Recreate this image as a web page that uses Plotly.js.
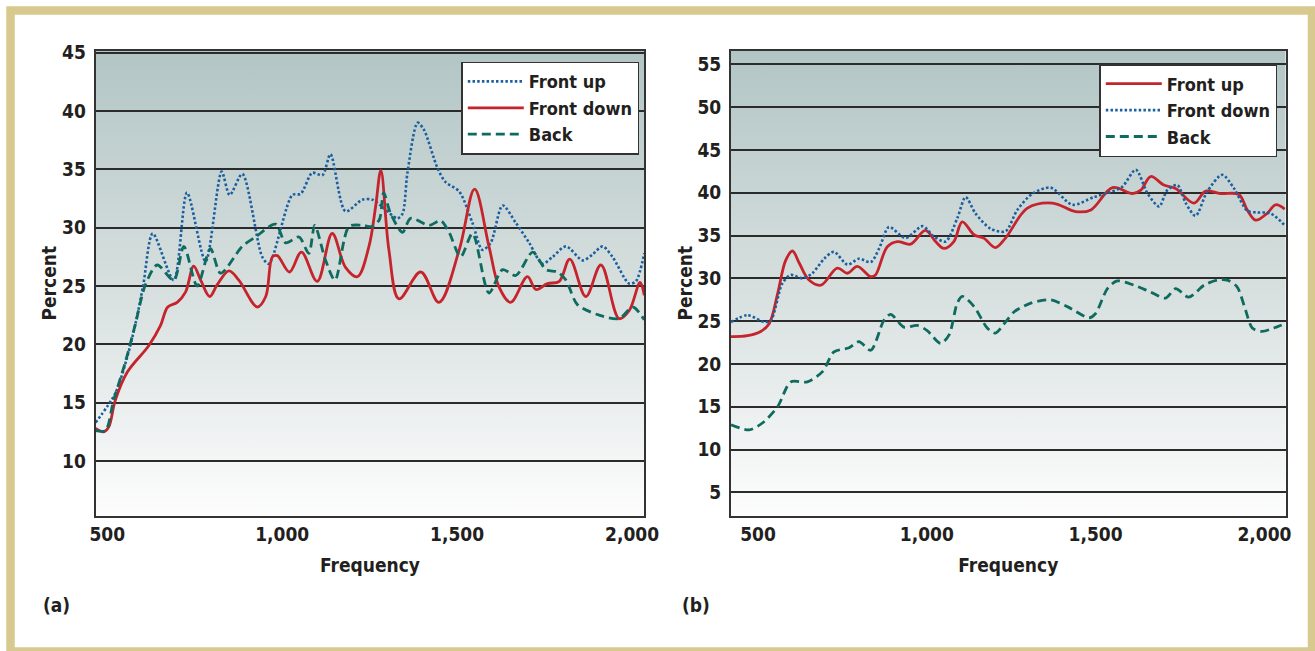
<!DOCTYPE html>
<html>
<head>
<meta charset="utf-8">
<script src="https://cdn.plot.ly/plotly-3.0.1.min.js"></script>
<style>
  html, body { margin: 0; padding: 0; background: #ffffff; }
  #chart { width: 1315px; height: 651px; }
</style>
</head>
<body>
<div id="chart"></div>
<script>
// ---------- Data ----------
// Panel (a)
const freqA_up   = [467,523,557,581,603,630,690,728,781,827,850,886,943,962,1029,1053,1086,1115,1138,1181,1229,1258,1286,1329,1344,1358,1387,1405,1444,1467,1506,1544,1572,1596,1630,1668,1706,1744,1773,1811,1859,1887,1916,1944,1992,2011,2035];
const valA_up    = [13.3,15.8,18.9,21.8,25.1,29.5,25.5,33.0,27.1,34.8,32.8,34.6,27.5,26.9,32.8,32.9,34.7,34.5,36.3,31.4,32.4,32.4,31.8,30.8,31.2,34.7,39.0,38.4,35.1,33.9,33.1,30.4,28.1,28.7,31.9,30.4,28.7,26.9,27.5,28.4,27.2,27.7,28.4,27.5,25.2,25.4,27.8];

const freqA_down = [467,490,504,523,557,619,652,673,700,724,747,767,793,814,848,876,929,953,972,986,1021,1055,1100,1143,1181,1215,1248,1267,1282,1305,1334,1396,1448,1506,1550,1591,1620,1653,1701,1725,1758,1792,1822,1868,1911,1963,1992,2023,2035];
const valA_down  = [12.8,12.5,12.9,15.2,17.6,19.9,21.6,23.2,23.6,24.5,26.7,25.5,24.1,25.1,26.3,25.5,23.2,24.1,27.5,27.6,26.2,27.9,25.4,29.5,26.6,25.8,28.4,31.8,34.9,28.1,23.9,26.2,23.6,28.1,33.3,28.4,24.9,23.6,25.8,24.7,25.2,25.4,27.3,24.1,26.8,22.2,22.9,25.3,24.2];

const freqA_back = [467,495,518,552,581,609,643,690,719,757,795,824,886,924,981,1010,1048,1076,1093,1124,1151,1191,1229,1258,1278,1290,1310,1344,1367,1420,1453,1477,1510,1544,1591,1630,1668,1716,1754,1787,1811,1844,1906,1963,2002,2035];
const valA_back  = [12.6,12.6,15.2,18.5,21.8,25.1,26.8,25.5,28.4,25.0,28.2,26.1,28.4,29.2,30.3,28.7,29.2,27.8,30.2,27.2,25.5,30.1,30.2,30.1,30.7,33.0,31.2,29.6,30.8,30.2,30.6,29.6,27.5,29.5,24.4,26.4,25.9,27.9,26.4,26.2,25.5,23.4,22.5,22.2,23.2,22.1];

// Panel (b)
const freqB_up   = [420,469,508,533,558,582,602,622,651,686,735,765,794,834,848,883,913,952,996,1026,1051,1080,1105,1140,1169,1203,1233,1298,1372,1441,1486,1550,1609,1634,1663,1702,1737,1791,1826,1870,1924,1949,1974,2008,2033,2060];
const valB_up    = [23.2,23.3,23.8,24.7,28.2,32.1,33.2,31.8,29.8,29.2,31.2,30.6,31.4,30.2,30.4,33.7,34.3,34.0,35.6,34.3,33.5,34.3,36.6,35.1,34.7,33.6,34.7,38.2,38.8,37.8,38.0,40.6,39.9,40.3,41.9,40.9,40.5,38.8,40.2,39.9,39.8,38.0,36.8,37.6,38.6,38.1];

const freqB_down = [420,469,518,538,572,597,632,661,696,725,765,799,834,859,888,937,987,1021,1056,1090,1115,1144,1189,1233,1268,1313,1367,1431,1495,1545,1579,1619,1654,1688,1712,1742,1767,1796,1830,1875,1910,1949,1978,2018,2060];
const valB_down  = [24.9,25.7,24.9,25.1,29.4,30.4,30.0,30.6,32.3,33.1,31.6,32.3,31.9,33.5,36.0,34.7,36.1,34.9,34.3,37.0,39.5,37.6,35.8,35.5,38.0,39.9,40.6,38.6,39.5,40.1,40.7,42.7,39.9,38.4,40.3,40.9,38.8,37.3,40.1,42.1,40.5,37.9,37.7,37.6,36.2];

const freqB_back = [420,474,513,558,597,646,691,725,770,799,834,873,893,932,972,1001,1041,1066,1090,1105,1140,1179,1203,1233,1259,1308,1367,1416,1481,1500,1535,1564,1614,1663,1707,1737,1776,1821,1860,1890,1919,1944,1964,1993,2028,2060];
const valB_back  = [12.9,12.3,13.1,15.0,17.9,17.9,19.1,21.4,21.9,22.6,21.6,25.1,25.8,24.3,24.5,23.9,22.4,23.4,27.1,27.9,26.7,24.2,23.6,24.9,26.1,27.1,27.5,26.7,25.4,25.9,28.8,29.7,29.2,28.4,27.7,28.8,27.8,29.2,29.8,29.8,29.0,26.3,24.2,23.8,24.2,24.7];

// Tick labels
const xTickVals = [500, 1000, 1500, 2000];
const xTickText = ['500', '1,000', '1,500', '2,000'];
const yTicksA   = [10, 15, 20, 25, 30, 35, 40, 45];
const yTicksB   = [5, 10, 15, 20, 25, 30, 35, 40, 45, 50, 55];
const seriesNames = ['Front up', 'Front down', 'Back'];

// ---------- Styling ----------
const W = 1315, H = 651;
const FONT = 'DejaVu Sans Condensed, DejaVu Sans, sans-serif';
const INK = '#231f20';
const RED = '#c5242d', BLUE = '#1b5f9e', GREEN = '#0f6b5f';
const redLine   = {color: RED,   width: 2.8, shape: 'spline', smoothing: 1.0};
const blueLine  = {color: BLUE,  width: 2.6, dash: '2.5px,2.2px', shape: 'spline', smoothing: 0.8};
const greenLine = {color: GREEN, width: 2.8, dash: '9px,5px', shape: 'spline', smoothing: 0.8};

const xDomA = [95.7 / W, 644.3 / W];
const xDomB = [731 / W, 1285.7 / W];
const yDom  = [1 - 515.7 / H, 1 - 50.7 / H];

const tickFont  = {family: FONT, size: 19, weight: 'bold', color: INK};
const titleFont = {family: FONT, size: 19, weight: 'bold', color: INK};

function xAxis(dom, range, anchor) {
  return {
    domain: dom, range: range, anchor: anchor,
    tickvals: xTickVals, ticktext: xTickText,
    showgrid: false, zeroline: false, ticks: '',
    showline: true, mirror: true, linecolor: '#333333', linewidth: 2,
    tickfont: tickFont,
    title: {text: 'Frequency', font: titleFont, standoff: 15},
    fixedrange: true
  };
}
function yAxis(range, ticks, anchor) {
  return {
    domain: yDom, range: range, anchor: anchor,
    tickvals: ticks,
    showgrid: true, gridcolor: '#2b2b2b', gridwidth: 2,
    zeroline: false, ticks: '',
    showline: true, mirror: true, linecolor: '#333333', linewidth: 2,
    tickfont: tickFont, ticklabelstandoff: 4,
    title: {text: 'Percent', font: titleFont, standoff: 0},
    fixedrange: true
  };
}

// Vertical background gradient for the plot areas (SVG data image)
const gradSvg = "<svg xmlns='http://www.w3.org/2000/svg' width='10' height='100' preserveAspectRatio='none'>" +
  "<defs><linearGradient id='g' x1='0' y1='0' x2='0' y2='1'>" +
  "<stop offset='0' stop-color='#b2c5c5'/><stop offset='0.5' stop-color='#d6dfde'/><stop offset='1' stop-color='#fdfdfd'/>" +
  "</linearGradient></defs><rect width='10' height='100' fill='url(#g)'/></svg>";
const gradSrc = 'data:image/svg+xml;charset=utf-8,' + encodeURIComponent(gradSvg);

const traces = [
  {x: freqA_up,   y: valA_up,   name: seriesNames[0], type: 'scatter', mode: 'lines', line: blueLine,  xaxis: 'x',  yaxis: 'y',  legend: 'legend'},
  {x: freqA_down, y: valA_down, name: seriesNames[1], type: 'scatter', mode: 'lines', line: redLine,   xaxis: 'x',  yaxis: 'y',  legend: 'legend'},
  {x: freqA_back, y: valA_back, name: seriesNames[2], type: 'scatter', mode: 'lines', line: greenLine, xaxis: 'x',  yaxis: 'y',  legend: 'legend'},
  {x: freqB_up,   y: valB_up,   name: seriesNames[0], type: 'scatter', mode: 'lines', line: redLine,   xaxis: 'x2', yaxis: 'y2', legend: 'legend2'},
  {x: freqB_down, y: valB_down, name: seriesNames[1], type: 'scatter', mode: 'lines', line: blueLine,  xaxis: 'x2', yaxis: 'y2', legend: 'legend2'},
  {x: freqB_back, y: valB_back, name: seriesNames[2], type: 'scatter', mode: 'lines', line: greenLine, xaxis: 'x2', yaxis: 'y2', legend: 'legend2'}
];

const legendBase = {
  xanchor: 'right', yanchor: 'top',
  bgcolor: '#ffffff', bordercolor: '#333333', borderwidth: 1.5,
  font: {family: FONT, size: 18, weight: 'bold', color: INK},
  itemwidth: 56, tracegroupgap: 0, traceorder: 'normal'
};

const layout = {
  width: W, height: H,
  margin: {l: 0, r: 0, t: 0, b: 0},
  paper_bgcolor: '#ffffff',
  plot_bgcolor: 'rgba(0,0,0,0)',
  showlegend: true,
  xaxis:  xAxis(xDomA, [467, 2035], 'y'),
  yaxis:  yAxis([5.31, 45.17], yTicksA, 'x'),
  xaxis2: xAxis(xDomB, [420, 2063], 'y2'),
  yaxis2: yAxis([2.27, 56.6], yTicksB, 'x2'),
  legend:  Object.assign({}, legendBase, {x: 639.3 / W, y: 1 - 61.7 / H}),
  legend2: Object.assign({}, legendBase, {x: 1277.3 / W, y: 1 - 64 / H}),
  images: [
    {source: gradSrc, xref: 'paper', yref: 'paper', x: xDomA[0], y: yDom[1], sizex: xDomA[1] - xDomA[0], sizey: yDom[1] - yDom[0], sizing: 'stretch', xanchor: 'left', yanchor: 'top', layer: 'below'},
    {source: gradSrc, xref: 'paper', yref: 'paper', x: xDomB[0], y: yDom[1], sizex: xDomB[1] - xDomB[0], sizey: yDom[1] - yDom[0], sizing: 'stretch', xanchor: 'left', yanchor: 'top', layer: 'below'}
  ],
  shapes: [
    {type: 'rect', xref: 'paper', yref: 'paper', x0: 10.5 / W, x1: 1312 / W, y0: 1 - 651.5 / H, y1: 1 - 10.5 / H,
     line: {color: '#d8c98f', width: 8.5}, fillcolor: 'rgba(0,0,0,0)', layer: 'below'}
  ],
  annotations: [
    {text: '(a)', xref: 'paper', yref: 'paper', x: 56.8 / W, y: 1 - 605 / H, xanchor: 'center', yanchor: 'middle', showarrow: false, font: titleFont},
    {text: '(b)', xref: 'paper', yref: 'paper', x: 695.5 / W, y: 1 - 605 / H, xanchor: 'center', yanchor: 'middle', showarrow: false, font: titleFont}
  ]
};

Plotly.newPlot('chart', traces, layout, {displayModeBar: false, staticPlot: true});
</script>
</body>
</html>
